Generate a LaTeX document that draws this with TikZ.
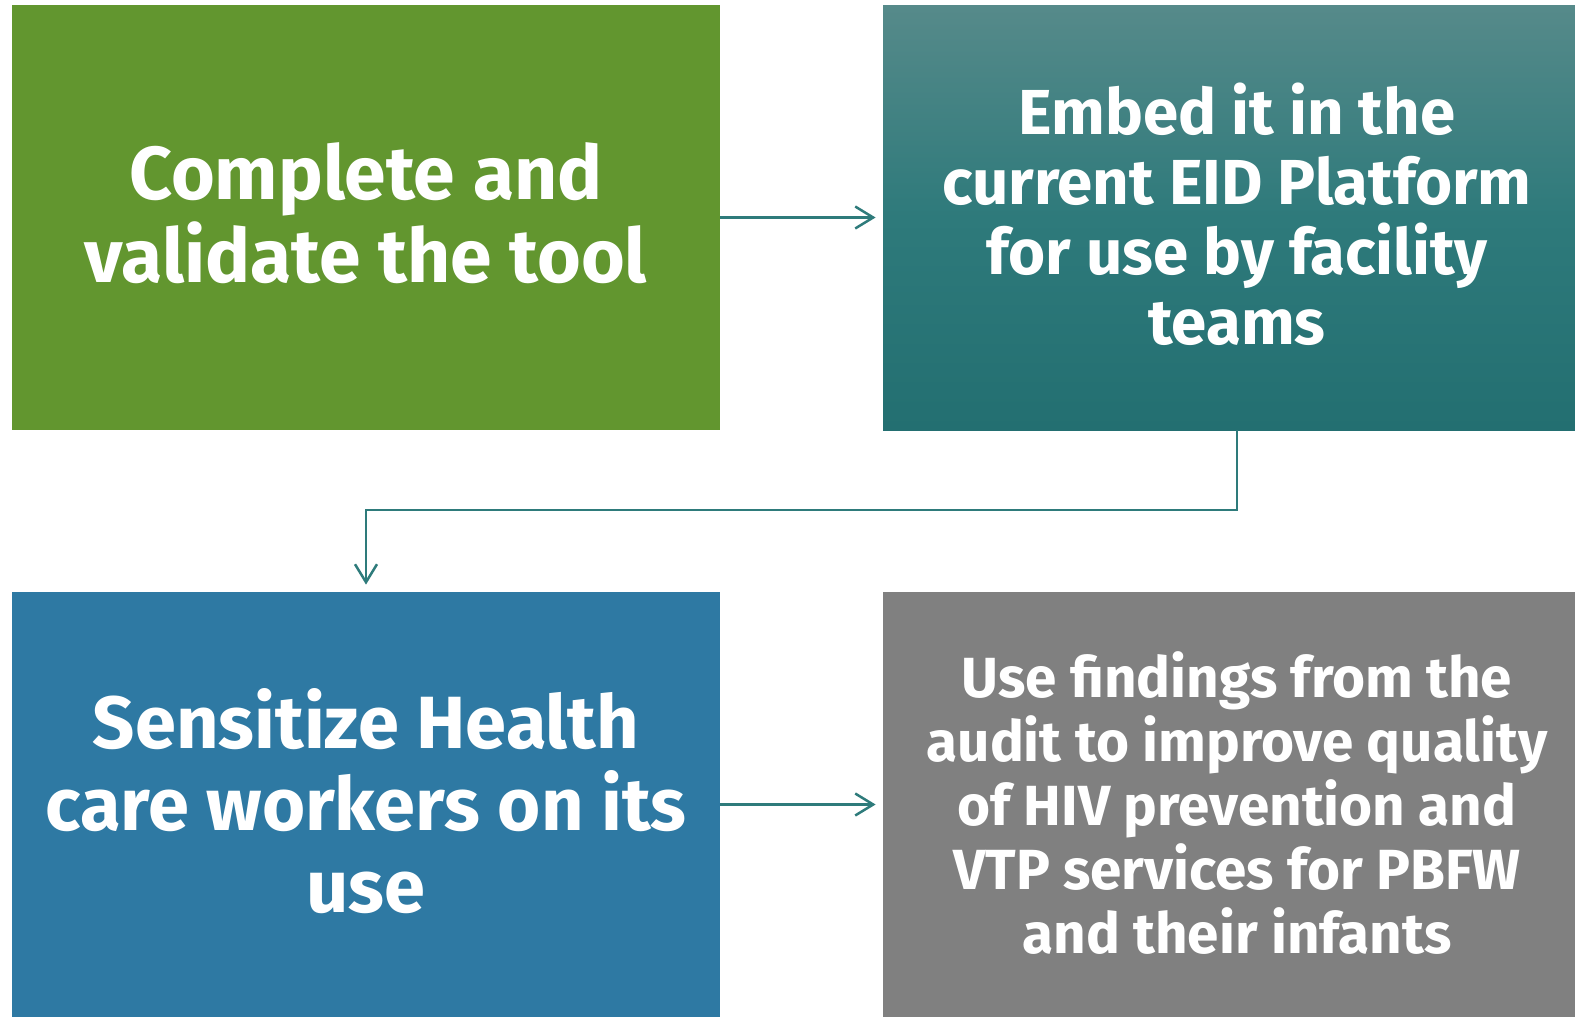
\documentclass[tikz,border=0pt]{standalone}
\usepackage{fontspec}
\setmainfont{Fira Sans}
\usetikzlibrary{arrows.meta}
\definecolor{cgreen}{HTML}{62962F}
\definecolor{cblue}{HTML}{2E79A3}
\definecolor{cgray}{HTML}{808080}
\definecolor{ctealtop}{HTML}{568A8A}
\definecolor{ctealmid}{HTML}{2E7A7B}
\definecolor{ctealbot}{HTML}{236F71}
\definecolor{carrow}{HTML}{2E7B7B}
\tikzset{
  box/.style={draw=none, minimum width=354pt, minimum height=212.5pt, inner sep=0pt},
  lbl/.style={text=white, font=\bfseries, align=center, inner sep=0pt},
  conn/.style={draw=carrow, line width=1.25pt, -{Straight Barb[length=9pt,width=11pt,line width=1.25pt]}, shorten >=3.5pt}
}
\begin{document}
\begin{tikzpicture}[x=0.5pt,y=-0.5pt]
\useasboundingbox (0,0) rectangle (1575,1017);
\clip (0,0) rectangle (1575,1017);
\node[box, fill=cgreen] (b1) at (366,217.5) {};
\node[box, top color=ctealtop, bottom color=ctealbot, middle color=ctealmid] (b2) at (1237,217.5) {};
\node[box, fill=cblue] (b3) at (366,804.5) {};
\node[box, fill=cgray] (b4) at (1237,804.5) {};
\node[lbl, font=\fontsize{37.5}{41.5}\selectfont\bfseries] (t1) at (366,213) {Complete and\\validate the tool};
\node[lbl, font=\fontsize{31.8}{35}\selectfont\bfseries] (t2) at (1237,214) {Embed it in the\\current EID Platform\\for use by facility\\teams};
\node[lbl, font=\fontsize{37}{41}\selectfont\bfseries] (t3) at (366,801) {Sensitize Health\\care workers on its\\use};
\node[lbl, font=\fontsize{28.3}{32}\selectfont\bfseries] (t4) at (1237,803) {Use findings from the\\audit to improve quality\\of HIV prevention and\\VTP services for PBFW\\and their infants};
\coordinate (k1) at (1237,510);
\coordinate (k2) at (366,510);
\draw[conn] (b1.east) -- (b2.west);
\draw[conn] (b2.south) -- (k1) -- (k2) -- (b3.north);
\draw[conn] (b3.east) -- (b4.west);
\end{tikzpicture}
\end{document}
